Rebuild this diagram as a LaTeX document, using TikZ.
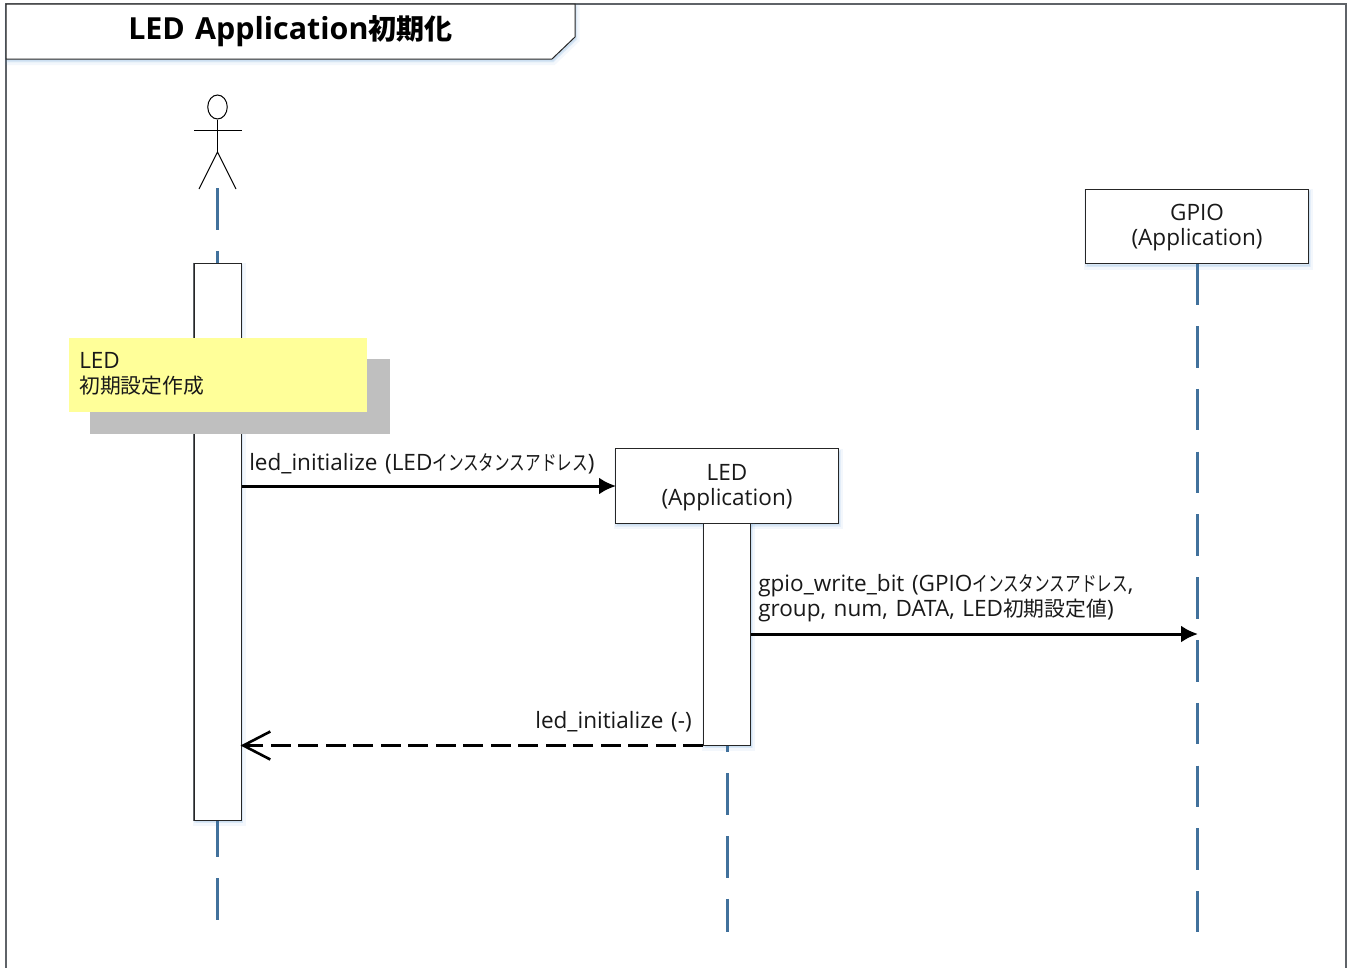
\documentclass[tikz,border=0pt]{standalone}
\usepackage{fontspec}
\setmainfont[WordSpace=1.3]{Open Sans}
\newfontfamily\cjk[Scale=0.923]{Noto Sans CJK JP}
\newfontfamily\kana[Scale=0.923,FakeStretch=0.75]{Noto Sans CJK JP}
\usetikzlibrary{arrows.meta,calc,shapes.geometric}
\newcommand{\J}[1]{{\cjk #1}}
\newcommand{\K}[1]{{\kana #1}}
\def\px{0.75pt}
\definecolor{life}{HTML}{41719C}
\definecolor{framegray}{HTML}{5F6368}
\definecolor{notey}{HTML}{FFFF99}
\definecolor{noteshadow}{HTML}{BFBFBF}
\definecolor{shadowblue}{HTML}{5B9BD5}
\tikzset{
  x=0.75pt,y=-0.75pt,
  softshadow/.style={
    preaction={draw=shadowblue,draw opacity=.07,line width=6*\px,fill=shadowblue,fill opacity=.07,transform canvas={xshift=1.5*\px,yshift=-3*\px}},
    preaction={draw=shadowblue,draw opacity=.10,line width=2.5*\px,fill=shadowblue,fill opacity=.10,transform canvas={xshift=1*\px,yshift=-2*\px}}},
  txt/.style={font=\fontsize{16.9pt}{18.75pt}\selectfont,text=black!90,inner sep=0pt,align=left},
  boxtxt/.style={font=\fontsize{16.9pt}{18.75pt}\selectfont,text=black!90,align=center,inner sep=0pt},
  partbox/.style={draw=black!85,line width=1*\px,fill=white,minimum width=223*\px,minimum height=74.5*\px,softshadow},
  actbar/.style={draw=black!85,line width=1*\px,fill=white,minimum width=47*\px,softshadow},
  lifeline/.style={draw=life,line width=3*\px,dash pattern=on 41.5*\px off 21.3*\px},
  call/.style={draw=black,line width=3*\px,shorten >=-1*\px,-{Latex[length=17*\px,width=17*\px]}},
  ret/.style={draw=black,line width=3*\px,shorten >=-1*\px,dash pattern=on 20*\px off 7.5*\px,-{Straight Barb[length=27*\px,width=28*\px,line width=2.6*\px]}},
  stick/.style={draw=black,line width=1*\px},
}
\begin{document}
\begin{tikzpicture}
\useasboundingbox (0,0) rectangle (1351,967);
\fill[white] (0,0) rectangle (1351,967);
% frame
\draw[framegray,line width=1.2*\px] (6,980) -- (6,4) -- (1346,4) -- (1346,980);
% title
\draw[draw=black!85,line width=1*\px,fill=white,softshadow] (6,4) -- (575,4) -- (575,37) -- (552,59) -- (6,59) -- cycle;
\node[inner sep=0pt,anchor=center,font=\fontsize{22.8pt}{26pt}\selectfont\bfseries] (title) at (290.5,31) {LED Application{\cjk\bfseries 初期化}};
% actor
\node[draw=black,line width=1*\px,ellipse,minimum width=19.5*\px,minimum height=24*\px,inner sep=0pt,fill=white] (head) at (217.5,107) {};
\coordinate (hip) at (217.5,152);
\coordinate (armL) at (194,130);
\coordinate (armR) at (241.5,130);
\coordinate (legL) at (199,189);
\coordinate (legR) at (236,189);
\draw[stick] (head.south) -- (hip);
\draw[stick] (armL) -- (armR);
\draw[stick] (legL) -- (hip) -- (legR);
% lifeline coordinates
\coordinate (a0) at (217.5,188);
\coordinate (a2) at (217.5,920);
\coordinate (l2) at (727,932);
\coordinate (g2) at (1197,932);
\coordinate (gHit) at (1197,634);
% bars and boxes
\node[actbar,minimum height=557*\px] (bar) at (217.5,541.5) {};
\draw[framegray,line width=1.2*\px] (bar.north west) -- (bar.south west);
\node[partbox] (gpio) at (1197,226.5) {};
\node[boxtxt,yshift=-0.75pt] (gpiot) at (gpio.center) {GPIO\\(Application)};
\node[partbox] (led) at (727,486) {};
\node[boxtxt,yshift=-1.5pt] (ledt) at (led.center) {LED\\(Application)};
\node[actbar,minimum height=222*\px] (ledbar) at (727,634) {};
\draw[lifeline] (a0) -- (bar.north);
\draw[lifeline,dash phase=5*\px] (bar.south) -- (a2);
\draw[lifeline,dash phase=35*\px] (ledbar.south) -- (l2);
\draw[lifeline,dash phase=1*\px] (gpio.south) -- (g2);
% note
\fill[noteshadow] (90,359) rectangle (390,434);
\node[fill=notey,anchor=north west,minimum width=298*\px,minimum height=74*\px,inner sep=0pt] (note) at (69,338) {};
\node[txt,anchor=base west] (notea) at (79,368) {LED};
\node[txt,anchor=base west] (noteb) at (79,393) {\J{初期設定作成}};
% messages
\draw[call] (bar.east |- led.west) -- (led.west);
\draw[call] (ledbar.east |- gHit) -- (gHit);
\draw[ret] (ledbar.south west) -- (bar.east |- ledbar.south west);
% labels
\node[txt,anchor=base west] (m1) at (249,470) {led\_initialize (LED\K{インスタンスアドレス})};
\node[txt,anchor=base west] (m2a) at (758,591) {gpio\_write\_bit (GPIO\K{インスタンスアドレス},};
\node[txt,anchor=base west] (m2b) at (758,616) {group, num, DATA, LED\J{初期設定値})};
\node[txt,anchor=base east] (m3) at (692,728) {led\_initialize (-)};
\end{tikzpicture}
\end{document}
